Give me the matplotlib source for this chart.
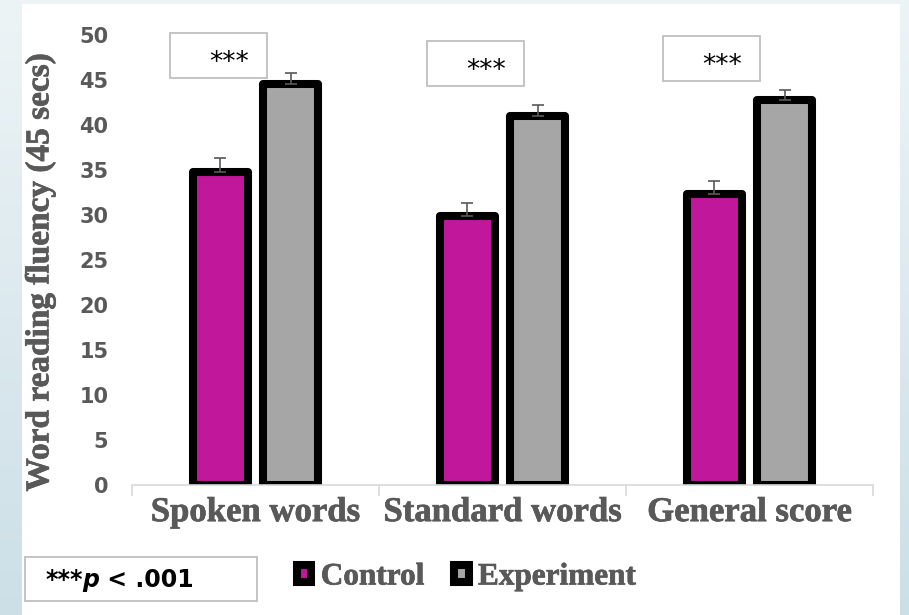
import numpy as np
import matplotlib.pyplot as plt
import matplotlib.patheffects as pe
from matplotlib.patches import Rectangle
from matplotlib.colors import LinearSegmentedColormap
from matplotlib.offsetbox import TextArea, HPacker, AnnotationBbox

categories = ['Spoken words', 'Standard words', 'General score']
control = [34.8, 29.9, 32.3]
experiment = [44.6, 41.0, 42.8]
control_err = [1.5, 1.4, 1.5]
experiment_err = [1.2, 1.2, 1.1]
sig_labels = ['***', '***', '***']

W, H = 909, 615
GRAY_TXT = '#595959'
SERIF = 'Liberation Serif'
# thicken the serif text a little
heavy = [pe.withStroke(linewidth=0.5, foreground=GRAY_TXT)]

fig = plt.figure(figsize=(W / 100, H / 100), dpi=100)

# light blue backdrop with a white panel on top
bg = fig.add_axes([0, 0, 1, 1], zorder=-10)
grad = np.linspace(0, 1, 256).reshape(-1, 1)
cmap = LinearSegmentedColormap.from_list('bg', ['#EDF4F6', '#CCDFE7'])
bg.imshow(grad, aspect='auto', cmap=cmap, extent=[0, 1, 0, 1], origin='upper')
bg.add_patch(Rectangle((22 / W, 0), (900 - 22) / W, (615 - 4) / H,
                       facecolor='white', edgecolor='none'))
bg.set_xlim(0, 1)
bg.set_ylim(0, 1)
bg.axis('off')

ax = fig.add_axes([132 / W, (615 - 485) / H, (873 - 132) / W, 450 / H])
ax.set_facecolor('none')

x = np.arange(len(categories))
off = 0.142
width = 0.223
lw = 5.8
err_kw = dict(ecolor=GRAY_TXT, elinewidth=1.2, capsize=4, capthick=1.2)

ax.bar(x - off, control, width, color='#C1179B', edgecolor='black', linewidth=lw,
       joinstyle='round', label='Control',
       yerr=[np.zeros(3), control_err], error_kw=err_kw)
ax.bar(x + off, experiment, width, color='#A6A6A6', edgecolor='black', linewidth=lw,
       joinstyle='round', label='Experiment',
       yerr=[np.zeros(3), experiment_err], error_kw=err_kw)

ax.set_xlim(-0.5, 2.5)
ax.set_ylim(0, 50)
ax.set_yticks(np.arange(0, 51, 5))
ax.tick_params(axis='y', length=0, pad=17, labelsize=15, labelcolor=GRAY_TXT)
for lab in ax.get_yticklabels():
    lab.set_fontweight('bold')
    lab.set_family('DejaVu Sans')

ax.set_xticks([-0.5, 0.5, 1.5, 2.5])
ax.set_xticklabels([])
ax.tick_params(axis='x', which='major', length=8, color='#D9D9D9', width=1.2)
ax.set_xticks(x, minor=True)
ax.set_xticklabels(categories, minor=True, fontsize=25, fontweight='bold',
                   color=GRAY_TXT, family=SERIF)
for lab in ax.get_xticklabels(minor=True):
    lab.set_path_effects(heavy)
ax.tick_params(axis='x', which='minor', length=0, pad=8)

for s in ['left', 'top', 'right']:
    ax.spines[s].set_visible(False)
ax.spines['bottom'].set_color('#D9D9D9')
ax.spines['bottom'].set_linewidth(1.2)

fig.text(40 / W, 1 - 272 / H, 'Word reading fluency (45 secs)', rotation=90,
         ha='center', va='center', fontsize=24, fontweight='bold',
         color=GRAY_TXT, family=SERIF, path_effects=heavy)

# significance boxes above each pair
box_pos = [(-0.148, 47.7), (-0.110, 46.8), (-0.152, 47.4)]
for i, (lab, (dx, cy)) in enumerate(zip(sig_labels, box_pos)):
    bw, bh = 0.393, 5.0
    ax.add_patch(Rectangle((i + dx - bw / 2, cy - bh / 2), bw, bh, facecolor='white',
                           edgecolor='#BFBFBF', linewidth=1.3, clip_on=False, zorder=5))
    ax.text(i + dx + 0.042, cy - 1.6, lab, ha='center', va='baseline', fontsize=19,
            family='DejaVu Sans', color='black', zorder=6, clip_on=False)

leg = ax.legend(loc='center left', bbox_to_anchor=(297 / W, 1 - 577 / H),
                bbox_transform=fig.transFigure, ncol=2, frameon=False, borderpad=0,
                borderaxespad=0, handlelength=0.46, handleheight=0.46,
                handletextpad=0.3, columnspacing=0.95,
                prop={'family': SERIF, 'weight': 'bold', 'size': 22.5},
                labelcolor=GRAY_TXT)
for t in leg.get_texts():
    t.set_path_effects(heavy)

# p-value note in a framed box
bg.add_patch(Rectangle((25 / W, 1 - 601 / H), (257 - 25) / W, (601 - 557) / H,
                       facecolor='white', edgecolor='#BFBFBF', linewidth=1.3))
note_font = dict(family='DejaVu Sans', weight='bold', size=17, color='black')
note = HPacker(children=[TextArea('***', textprops=note_font),
                         TextArea('p', textprops=dict(note_font, style='italic')),
                         TextArea(' < .001', textprops=note_font)],
               pad=0, sep=0, align='baseline')
bg.add_artist(AnnotationBbox(note, (45 / W, 1 - 580 / H), xycoords='axes fraction',
                             box_alignment=(0, 0.5), frameon=False))

fig.savefig('out.png', dpi=100)
